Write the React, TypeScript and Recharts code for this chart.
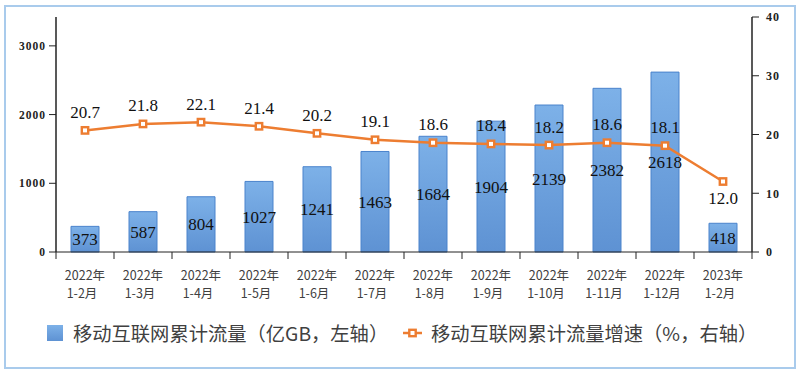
import React from "react";
import { ComposedChart, Bar, Line, XAxis, YAxis, LabelList } from "recharts";

// values
const YEARS = ["2022年", "2022年", "2022年", "2022年", "2022年", "2022年", "2022年", "2022年", "2022年", "2022年", "2022年", "2023年"];
const MONTHS = ["1-2月", "1-3月", "1-4月", "1-5月", "1-6月", "1-7月", "1-8月", "1-9月", "1-10月", "1-11月", "1-12月", "1-2月"];
const FLOW = [373, 587, 804, 1027, 1241, 1463, 1684, 1904, 2139, 2382, 2618, 418];
const GROWTH = [20.7, 21.8, 22.1, 21.4, 20.2, 19.1, 18.6, 18.4, 18.2, 18.6, 18.1, 12.0];
const LEFT_TICKS = [0, 1000, 2000, 3000];
const RIGHT_TICKS = [0, 10, 20, 30, 40];

const data = YEARS.map((y, i) => ({ idx: i, year: y, month: MONTHS[i], flow: FLOW[i], growth: GROWTH[i] }));

const SERIF = "'Liberation Serif', 'Times New Roman', serif";
const CJK = "'Noto Sans CJK SC', 'Noto Sans', sans-serif";
const ORANGE = "#ED7D31";
const AXIS = "#222";
const HALF_BAND = 29;

function XTick(props: any) {
  const { x, y, index, payload } = props;
  const d = data[payload.value];
  return (
    <g>
      <line x1={x - HALF_BAND} x2={x - HALF_BAND} y1={y} y2={y + 7} stroke={AXIS} />
      {index === data.length - 1 && <line x1={x + HALF_BAND} x2={x + HALF_BAND} y1={y} y2={y + 7} stroke={AXIS} />}
      <text x={x} y={y + 22} textAnchor="middle" dominantBaseline="central" fontSize={12.5} fontFamily={CJK} fill="#404040">
        {d.year}
      </text>
      <text x={x - 3} y={y + 40} textAnchor="middle" dominantBaseline="central" fontSize={12.5} fontFamily={CJK} fill="#404040">
        {d.month}
      </text>
    </g>
  );
}

function Square(props: any) {
  const { cx, cy } = props;
  if (cx == null || cy == null) return null;
  return <rect x={cx - 3.2} y={cy - 3.2} width={6.4} height={6.4} fill="#fff" stroke={ORANGE} strokeWidth={2.4} />;
}

function GrowthLabel(props: any) {
  const { x, y, value, index } = props;
  const below = index === data.length - 1;
  return (
    <text x={x} y={below ? y + 17 : y - 18} textAnchor="middle" dominantBaseline="central" fontSize={17} fontFamily={SERIF} fill="#111">
      {Number(value).toFixed(1)}
    </text>
  );
}

const legendText: React.CSSProperties = {
  position: "absolute",
  top: 319,
  fontSize: 19.3,
  fontFamily: CJK,
  color: "#404040",
  lineHeight: "28px",
  whiteSpace: "nowrap",
};

export default function App() {
  return (
    <div style={{ position: "absolute", left: 0, top: 0, width: 800, height: 371, background: "#fff" }}>
      <div style={{ position: "absolute", left: 4, top: 5, width: 788, height: 360, border: "2px solid #A9CBEC" }} />
      <div style={{ position: "absolute", left: 0, top: 0 }}>
        <ComposedChart width={800} height={371} data={data} margin={{ top: 17, right: 8, left: 16, bottom: 59 }}>
          <defs>
            <linearGradient id="barGrad" x1="0" y1="0" x2="0" y2="1">
              <stop offset="0%" stopColor="#7DB1E8" />
              <stop offset="100%" stopColor="#5E92D3" />
            </linearGradient>
          </defs>
          <XAxis
            dataKey="idx"
            interval={0}
            tickLine={false}
            tickSize={0}
            tickMargin={0}
            height={60}
            axisLine={{ stroke: AXIS }}
            tick={<XTick />}
          />
          <YAxis
            yAxisId="left"
            width={40}
            domain={[0, 3420]}
            ticks={LEFT_TICKS}
            interval={0}
            tickSize={7}
            tickMargin={3}
            axisLine={{ stroke: AXIS, strokeWidth: 1.5 }}
            tickLine={{ stroke: AXIS }}
            tick={{ fontSize: 11.5, fontWeight: "bold", fontFamily: SERIF, fill: "#222", letterSpacing: 1 }}
          />
          <YAxis
            yAxisId="right"
            orientation="right"
            width={40}
            domain={[0, 40]}
            ticks={RIGHT_TICKS}
            interval={0}
            tickSize={7}
            tickMargin={7}
            axisLine={{ stroke: AXIS, strokeWidth: 1.5 }}
            tickLine={{ stroke: AXIS }}
            tick={{ fontSize: 12, fontWeight: "bold", fontFamily: SERIF, fill: "#222", letterSpacing: 1 }}
          />
          <Bar yAxisId="left" dataKey="flow" barSize={28} fill="url(#barGrad)" stroke="#4A83CC" strokeWidth={1} isAnimationActive={false}>
            <LabelList dataKey="flow" position="center" fontSize={17} fontFamily={SERIF} fill="#111" />
          </Bar>
          <Line
            yAxisId="right"
            type="linear"
            dataKey="growth"
            stroke={ORANGE}
            strokeWidth={2.5}
            dot={<Square />}
            activeDot={false}
            isAnimationActive={false}
          >
            <LabelList dataKey="growth" content={<GrowthLabel />} />
          </Line>
        </ComposedChart>
      </div>
      <div style={{ position: "absolute", left: 47, top: 325, width: 16, height: 16, background: "linear-gradient(#7DB1E8, #5E92D3)" }} />
      <div style={{ ...legendText, left: 73 }}>移动互联网累计流量（亿GB，左轴）</div>
      <svg style={{ position: "absolute", left: 400, top: 325 }} width={26} height={16}>
        <line x1={3} x2={22} y1={8} y2={8} stroke={ORANGE} strokeWidth={2.5} />
        <rect x={9.3} y={4.8} width={6.4} height={6.4} fill="#fff" stroke={ORANGE} strokeWidth={2.4} />
      </svg>
      <div style={{ ...legendText, left: 431 }}>移动互联网累计流量增速（%，右轴）</div>
    </div>
  );
}
